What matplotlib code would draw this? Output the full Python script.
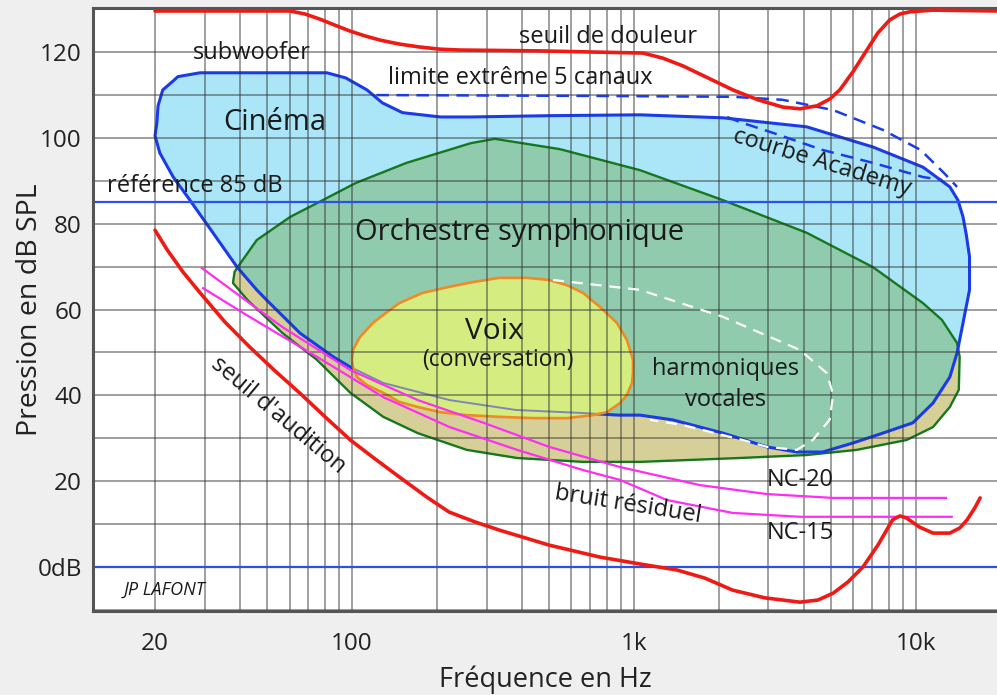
import matplotlib
matplotlib.use('Agg')
import matplotlib.pyplot as plt
from matplotlib.patches import Polygon
from matplotlib.ticker import FixedLocator, FixedFormatter
import numpy as np

plt.rcParams['font.family'] = ['Open Sans', 'DejaVu Sans']

# ---------------- data (frequency in Hz, level in dB SPL) ----------------
x_ticks = [20, 100, 1000, 10000]
x_ticklabels = ['20', '100', '1k', '10k']
x_grid = [30, 40, 50, 60, 70, 80, 90, 200, 300, 400, 500, 600, 700, 800, 900,
          2000, 3000, 4000, 5000, 6000, 7000, 8000, 9000]
y_ticks = [0, 20, 40, 60, 80, 100, 120]
y_ticklabels = ['0dB', '20', '40', '60', '80', '100', '120']
y_grid = [-10, 10, 30, 50, 70, 90, 110, 130]

pain_f = [20, 60.3, 68.1, 76.9, 86.9, 98.6, 111, 126, 147, 174, 205, 242, 464, 758,
          1076, 1267, 1492, 1830, 2244, 2753, 3374, 3880, 4460, 4955, 5370, 5977,
          6700, 7334, 8070, 8775, 9500, 11500, 19300]
pain_db = [129.6, 129.6, 128.9, 127.7, 126.3, 124.9, 123.8, 122.8, 121.9, 121.2,
           120.7, 120.5, 120.3, 120.0, 119.8, 118.6, 116.8, 114.0, 111.2, 108.9,
           107.2, 106.8, 107.5, 109.1, 111.2, 115.4, 120.5, 124.5, 127.5, 128.9,
           129.4, 129.8, 129.6]

hear_f = [20, 22.1, 25.1, 28.9, 35.4, 43.3, 53.3, 65.1, 80.2, 98.6, 120.6, 147, 184,
          221, 273, 333, 500, 758, 1050, 1420, 1785, 2240, 2914, 3880, 4493, 5090,
          5740, 6490, 7334, 8270, 8775, 9270, 10300, 11500, 13200, 14320, 15200,
          16190, 16900]
hear_db = [78.5, 73.9, 68.8, 63.9, 57.1, 51.3, 45.7, 40.6, 35.0, 29.6, 25.2, 21.0,
           16.3, 12.8, 10.5, 8.6, 5.1, 2.3, 0.7, -0.7, -2.6, -5.4, -7.2, -8.2, -7.7,
           -6.1, -3.5, 0.0, 5.1, 11.0, 11.9, 11.4, 9.3, 7.9, 7.9, 9.1, 11.0, 13.8, 16.1]

nc20_f = [29.3, 43.3, 56.7, 98.6, 171, 293, 500, 892, 1710, 2960, 5090, 12800]
nc20_db = [69.7, 61.5, 55.9, 45.9, 38.9, 33.6, 28, 23.3, 19.1, 17, 16.1, 16.1]
nc15_f = [29.6, 43.3, 75, 129, 222, 385, 659, 892, 1310, 2240, 3880, 13400]
nc15_db = [65, 58.3, 49, 39.6, 32.6, 27.3, 22.6, 20.3, 15.6, 12.6, 11.7, 11.7]

cinema_f = [20.3, 20.5, 21.3, 23.2, 24.1, 28.9, 60, 81.4, 95, 113, 128, 151, 206,
            264, 500, 1050, 2070, 4100, 7040, 10600, 13200, 14100, 14700, 15100,
            15500, 15500, 14700, 14000, 13200, 11500, 9750, 7630, 5980, 4670, 3780,
            2960, 2070, 1370, 1050, 880, 653, 381, 222, 129, 98.6, 85.7, 65.4, 49.8,
            45.9, 39.1, 32.1, 26.6, 23.2, 20.8, 20.0]
cinema_db = [103.5, 107.5, 111.2, 113.3, 114.3, 115.2, 115.2, 115.2, 114.0, 111.2,
             108.2, 105.9, 104.9, 104.9, 105.2, 105.4, 104.7, 102.6, 97.9, 93.2, 88.6,
             85.5, 81.6, 77.4, 72.3, 64.6, 56.9, 49.9, 44.3, 38.2, 33.6, 31.2, 28.9,
             26.8, 26.8, 28.0, 31.2, 34.3, 35.4, 35.4, 35.9, 36.6, 38.9, 42.9, 46.6,
             49.0, 54.5, 62.2, 64.6, 69.9, 77.9, 85.5, 90.9, 96.5, 100.5]

orch_f = [38.3, 39.1, 45.9, 60.3, 75, 103, 156, 264, 321, 546, 1050, 2070, 4100,
          7040, 10600, 12370, 14000, 14300, 14200, 13200, 11500, 9270, 6170, 4100,
          2370, 1050, 659, 385, 255, 171, 129, 98.6, 75, 56.7, 42.6, 37.8]
orch_db = [68.8, 69.7, 76.2, 81.6, 84.8, 89.5, 94.2, 98.8, 99.8, 97.4, 92.5, 85.5,
           77.9, 69.9, 61.5, 57.6, 52.2, 49, 41.3, 37.3, 32.6, 29.6, 27.3, 26.1,
           25.4, 24.5, 24.5, 25.4, 27.3, 31.2, 35, 40.6, 48.3, 54.5, 62.2, 66.2]

voice_f = [100.7, 106.7, 118.6, 133, 147, 178, 221, 268, 333, 417, 500, 578, 659,
           758, 870, 944, 992, 992, 984, 944, 892, 802, 715, 578, 438, 333, 255, 205,
           171, 147, 129, 113, 104, 100.7, 99.9]
voice_db = [50.6, 53.6, 56.9, 59.4, 61.5, 63.9, 65.3, 66.4, 67.4, 67.4, 66.9, 65.7,
            63.9, 60.6, 56.9, 52.9, 48.3, 45.2, 42.9, 40.1, 38.2, 36.1, 35.4, 34.7,
            34.7, 35.0, 35.4, 36.1, 37.3, 38.5, 40.6, 42.4, 44.3, 46.6, 48.3]

harm_f = [516, 1050, 2070, 3880, 4830, 5090, 4940, 4310, 3780, 2960, 2430, 1860,
          1490, 1140]
harm_db = [66.9, 64.6, 58.3, 50.6, 45.2, 40.1, 34.3, 29.6, 27.3, 28.0, 29.6, 31.5,
           33.1, 34.3]

limit_f = [122, 758, 2240, 3370, 5090, 7630, 10400, 12600, 14000]
limit_db = [110, 109.8, 109.6, 108.9, 106.5, 101.9, 97.2, 91.8, 88.6]

academy_f = [2140, 2380, 3110, 4670, 7040, 10600, 12400]
academy_db = [104.9, 103.7, 101.2, 97.2, 94.2, 90.9, 90.2]

ref_levels = [85, 0]

# ---------------- figure ----------------
fig = plt.figure(figsize=(9.97, 6.95), dpi=100, facecolor='#efefef')
ax = fig.add_axes([93 / 997, 1 - 611 / 695, 904 / 997, 603 / 695])
ax.set_facecolor('white')
ax.set_xscale('log')
ax.set_xlim(12.05, 19400)
ax.set_ylim(-10.26, 130.3)

BLUE = '#1b3be8'
cin = Polygon(np.column_stack([cinema_f, cinema_db]), closed=True,
              fc='#aae6f7', ec='none', zorder=1.0)
ax.add_patch(cin)
orch_k = Polygon(np.column_stack([orch_f, orch_db]), closed=True,
                 fc='#d6cf98', ec='none', zorder=1.1)
ax.add_patch(orch_k)
orch_t = Polygon(np.column_stack([orch_f, orch_db]), closed=True,
                 fc='#8fcbac', ec='none', zorder=1.15)
ax.add_patch(orch_t)
orch_t.set_clip_path(cin)

ax.add_patch(Polygon(np.column_stack([cinema_f, cinema_db]), closed=True,
                     fill=False, ec=BLUE, lw=2.2, joinstyle='round', zorder=1.2))
ax.add_patch(Polygon(np.column_stack([orch_f, orch_db]), closed=True,
                     fill=False, ec='#16781e', lw=1.7, joinstyle='round', zorder=1.19))
voice_fill = Polygon(np.column_stack([voice_f, voice_db]), closed=True,
                     fc='#d5ec80', ec='none', zorder=1.3)
ax.add_patch(voice_fill)
cin_in_voice = Polygon(np.column_stack([cinema_f, cinema_db]), closed=True,
                       fill=False, ec='#7f86b4', lw=1.4, zorder=1.35)
ax.add_patch(cin_in_voice)
cin_in_voice.set_clip_path(voice_fill)
ax.add_patch(Polygon(np.column_stack([voice_f, voice_db]), closed=True,
                     fill=False, ec='#f08a24', lw=1.9, joinstyle='round', zorder=1.4))

# grid
ax.set_axisbelow('line')
ax.xaxis.set_major_locator(FixedLocator(x_ticks))
ax.xaxis.set_major_formatter(FixedFormatter(x_ticklabels))
ax.xaxis.set_minor_locator(FixedLocator(x_grid))
ax.xaxis.set_minor_formatter(FixedFormatter([''] * len(x_grid)))
ax.yaxis.set_major_locator(FixedLocator(y_ticks))
ax.yaxis.set_major_formatter(FixedFormatter(y_ticklabels))
ax.yaxis.set_minor_locator(FixedLocator(y_grid))
ax.grid(True, which='both', color='#333333', alpha=0.55, lw=1.2)
ax.tick_params(which='both', length=0)
ax.tick_params(axis='x', pad=15, labelsize=17.5, colors='#222222')
ax.tick_params(axis='y', pad=8, labelsize=17.5, colors='#222222')

# lines
for lv in ref_levels:
    ax.axhline(lv, color='#2a50ee', lw=1.6, zorder=2.0)
ax.plot(pain_f, pain_db, color='#f01a14', lw=2.6, solid_joinstyle='round',
        solid_capstyle='round', zorder=3)
ax.plot(hear_f, hear_db, color='#f01a14', lw=2.6, solid_joinstyle='round',
        solid_capstyle='round', zorder=3)
ax.plot(nc20_f, nc20_db, color='#ff2cf5', lw=1.6, zorder=2.6)
ax.plot(nc15_f, nc15_db, color='#ff2cf5', lw=1.6, zorder=2.6)
ax.plot(limit_f, limit_db, color=BLUE, lw=1.8, dashes=(5, 3), zorder=2.5)
ax.plot(academy_f, academy_db, color=BLUE, lw=1.8, dashes=(5, 3), zorder=2.5)
ax.plot(harm_f, harm_db, color='white', lw=1.6, dashes=(5, 3.5), zorder=2.4)

for s in ['left', 'top', 'bottom']:
    ax.spines[s].set_color('#555555')
    ax.spines[s].set_linewidth(2.2)
ax.spines['right'].set_visible(False)

# labels
ax.set_ylabel('Pression en dB SPL', fontsize=20.5, color='#222222')
ax.yaxis.set_label_coords(-0.054, 0.5)
ax.set_xlabel('Fréquence en Hz', fontsize=19.5, color='#222222')
ax.xaxis.set_label_coords(0.5, -0.090)
ax.xaxis.label.set_va('top')

tc = '#1a1a1a'
T = 17
ax.text(809, 123.5, 'seuil de douleur', fontsize=T, ha='center', va='center', color=tc, zorder=5)
ax.text(44, 119.8, 'subwoofer', fontsize=T, ha='center', va='center', color=tc, zorder=5)
ax.text(394, 114, 'limite extrême 5 canaux', fontsize=T, ha='center', va='center', color=tc, zorder=5)
ax.text(53.3, 103.5, 'Cinéma', fontsize=21, ha='center', va='center', color=tc, zorder=5)
ax.text(13.5, 88.8, 'référence 85 dB', fontsize=T, ha='left', va='center', color=tc, zorder=5)
ax.text(4640, 94.2, 'courbe Academy', fontsize=T, ha='center', va='center', color=tc,
        rotation=-17, zorder=5)
ax.text(394, 77.9, 'Orchestre symphonique', fontsize=21, ha='center', va='center', color=tc, zorder=5)
ax.text(321, 54.8, 'Voix', fontsize=21.5, ha='center', va='center', color=tc, zorder=5)
ax.text(329, 48.3, '(conversation)', fontsize=16.5, ha='center', va='center', color=tc, zorder=5)
ax.text(2120, 46.2, 'harmoniques', fontsize=T, ha='center', va='center', color=tc, zorder=5)
ax.text(2120, 38.9, 'vocales', fontsize=T, ha='center', va='center', color=tc, zorder=5)
ax.text(54.6, 35.4, "seuil d'audition", fontsize=T, ha='center', va='center', color=tc,
        rotation=-40, zorder=5)
ax.text(952, 14.5, 'bruit résiduel', fontsize=T, ha='center', va='center', color=tc,
        rotation=-9, zorder=5)
ax.text(3880, 20.3, 'NC-20', fontsize=T, ha='center', va='center', color=tc, zorder=5)
ax.text(3880, 7.9, 'NC-15', fontsize=T, ha='center', va='center', color=tc, zorder=5)
ax.text(21.7, -5.4, 'JP LAFONT', fontsize=13, style='italic', ha='center', va='center',
        color=tc, zorder=5)

fig.savefig('out.png', dpi=100, facecolor=fig.get_facecolor())
